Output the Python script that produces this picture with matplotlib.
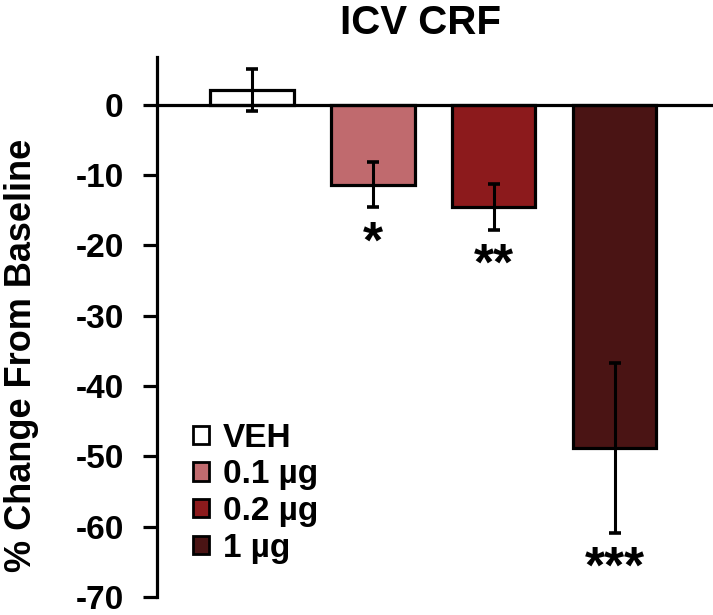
import matplotlib
matplotlib.use("Agg")
import matplotlib.pyplot as plt
import matplotlib.patches as mpatches

plt.rcParams['font.family'] = ['Liberation Sans', 'DejaVu Sans']
plt.rcParams['font.weight'] = 'bold'

# data
groups = ["VEH", "0.1 µg", "0.2 µg", "1 µg"]
means = [2.1, -11.4, -14.5, -48.8]
sems = [3.0, 3.2, 3.3, 12.1]
stars = ["", "*", "**", "***"]
colors = ["#ffffff", "#c06a6e", "#8c1a1c", "#4a1414"]
yticks = [0, -10, -20, -30, -40, -50, -60, -70]

fig = plt.figure(figsize=(7.13, 6.15), dpi=100)
ax = fig.add_axes([157/713, 1-597/615, 1-157/713, (597-57)/615])

x = range(len(groups))
ax.bar(x, means, width=0.69, color=colors, edgecolor="black",
       linewidth=2.3, zorder=2)
ax.errorbar(x, means, yerr=sems, fmt="none", ecolor="black",
            elinewidth=2.2, capsize=4, capthick=2.6, zorder=3)

for i in x:
    if stars[i]:
        ax.annotate(stars[i], xy=(i, means[i]-sems[i]), xytext=(0, -36),
                    textcoords="offset points", ha="center", va="baseline",
                    fontsize=37, fontweight="bold")

ax.set_xlim(-0.786, 3.815)
ax.set_ylim(-70, 6.8)
ax.set_yticks(yticks)
ax.set_yticklabels([str(t) for t in yticks])
ax.tick_params(axis="y", direction="out", length=10, width=2.3,
               labelsize=24, pad=14)
ax.tick_params(axis="x", bottom=False, labelbottom=False)
for side in ["top", "right"]:
    ax.spines[side].set_visible(False)
ax.spines["bottom"].set_position(("data", 0))
ax.spines["bottom"].set_linewidth(2.3)
ax.spines["left"].set_linewidth(2.3)
ax.spines["bottom"].set_zorder(4)

handles = [mpatches.Patch(facecolor=c, edgecolor="black", linewidth=2.0, label=g)
           for c, g in zip(colors, groups)]
ax.legend(handles=handles, loc="upper left",
          bbox_to_anchor=(176/713, 1-406/615), bbox_transform=fig.transFigure,
          frameon=False, fontsize=24, handlelength=0.48, handleheight=0.48,
          handletextpad=0.42, labelspacing=0.17, borderpad=0)

fig.text(421/713, 1-23/615, "ICV CRF", ha="center", va="center",
         fontsize=29, fontweight="bold")
fig.text(22/713, 1-355/615, "% Change From Baseline", ha="center", va="center",
         rotation=90, fontsize=26, fontweight="bold")

fig.savefig("out.png", dpi=100)
